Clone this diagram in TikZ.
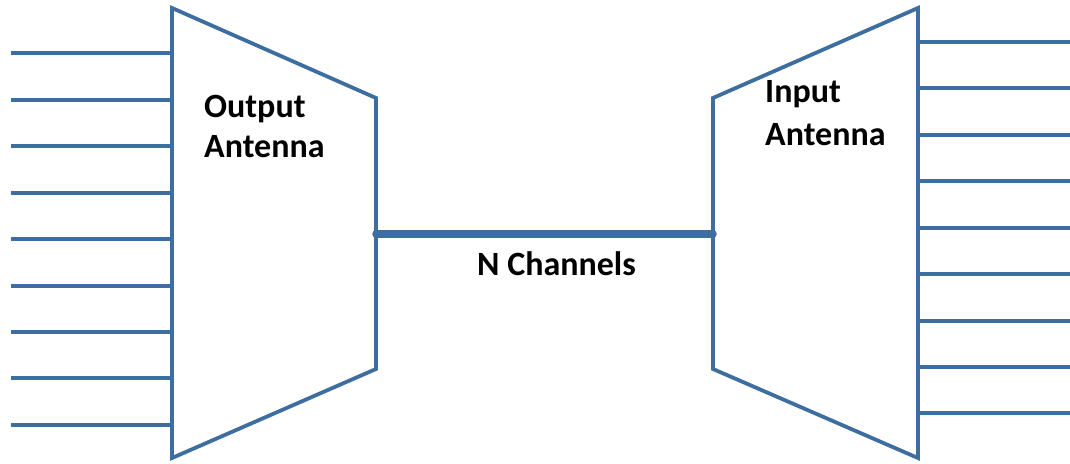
\documentclass[tikz,border=0pt]{standalone}
\usepackage{fontspec}
\setmainfont{Carlito}
\definecolor{lineblue}{RGB}{62,110,160}
\begin{document}
\begin{tikzpicture}[x=1pt,y=-1pt,
  wire/.style={draw=lineblue,line width=3.6pt},
  box/.style={draw=lineblue,line width=3.8pt,line join=miter},
  chan/.style={draw=lineblue,line width=7.5pt,line cap=round},
  lbl/.style={anchor=base west,inner sep=0pt,font=\fontsize{34}{40}\selectfont\bfseries,text=black}]
\useasboundingbox (0,0) rectangle (1070,463);
% left trapezoid
\coordinate (L1) at (172,8);
\coordinate (L2) at (376,98);
\coordinate (L3) at (376,369);
\coordinate (L4) at (172,458);
\draw[box] (L1) -- (L2) -- (L3) -- (L4) -- cycle;
% right trapezoid
\coordinate (R1) at (713,98);
\coordinate (R2) at (918,8);
\coordinate (R3) at (918,458);
\coordinate (R4) at (713,369);
\draw[box] (R1) -- (R2) -- (R3) -- (R4) -- cycle;
% left wires
\foreach \y [count=\i] in {53,100,146,193,239,286,332,378,425}{
  \coordinate (la\i) at (11,\y);
  \coordinate (lb\i) at (172,\y);
  \draw[wire] (la\i) -- (lb\i);
}
% right wires
\foreach \y [count=\i] in {42,88,135,181,228,274,321,367,413}{
  \coordinate (ra\i) at (918,\y);
  \coordinate (rb\i) at (1070,\y);
  \draw[wire] (ra\i) -- (rb\i);
}
% channel
\coordinate (cl) at (376,234);
\coordinate (cr) at (713,234);
\draw[chan] (cl) -- (cr);
% labels
\node[lbl] (out1) at (204,117) {Output};
\node[lbl] (out2) at (204,157) {Antenna};
\node[lbl] (in1) at (765,102) {Input};
\node[lbl] (in2) at (765,145) {Antenna};
\node[lbl] (nch) at (477,275) {N Channels};
\end{tikzpicture}
\end{document}
